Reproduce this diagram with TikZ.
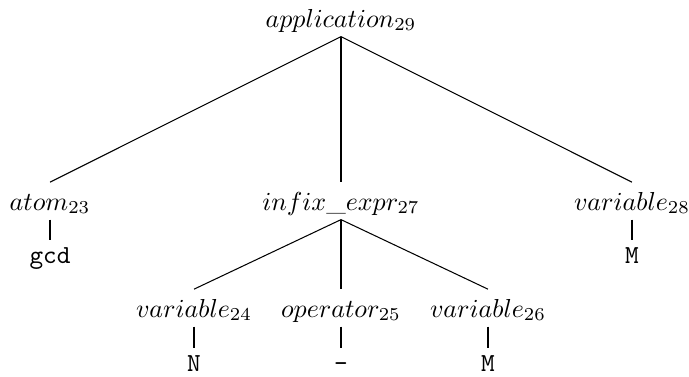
\documentclass[tikz,border=0pt]{standalone}
\usetikzlibrary{positioning}
\begin{document}
\begin{tikzpicture}[x=0.3846pt,y=-0.3846pt,
  nt/.style={anchor=base,inner sep=3.5pt,text height=7pt,text depth=0pt},
  lf/.style={anchor=base,inner sep=3pt,text height=5.5pt,text depth=0pt,font=\ttfamily}]
\useasboundingbox (0,0) rectangle (689,376);
% inner nodes
\node[nt] (app) at (341,27) {$application_{29}$};
\node[nt] (atom) at (50,210) {$atom_{23}$};
\node[nt] (infix) at (341,210) {$infix\_expr_{27}$};
\node[nt] (varM) at (632,210) {$variable_{28}$};
\node[nt] (varA) at (194,317) {$variable_{24}$};
\node[nt] (oper) at (341,317) {$operator_{25}$};
\node[nt] (varB) at (488,317) {$variable_{26}$};
% leaves
\node[lf] (gcd) at (50,263) {gcd};
\node[lf] (M) at (632,263) {M};
\node[lf] (N) at (194,371) {N};
\node[lf] (minus) at (341,371) {-};
\node[lf] (M2) at (488,371) {M};
% edges
\foreach \a/\b in {app/atom,app/infix,app/varM,infix/varA,infix/oper,infix/varB,
  atom/gcd,varM/M,varA/N,oper/minus,varB/M2}
  \draw (\a.south) -- (\b.north);
\end{tikzpicture}
\end{document}
